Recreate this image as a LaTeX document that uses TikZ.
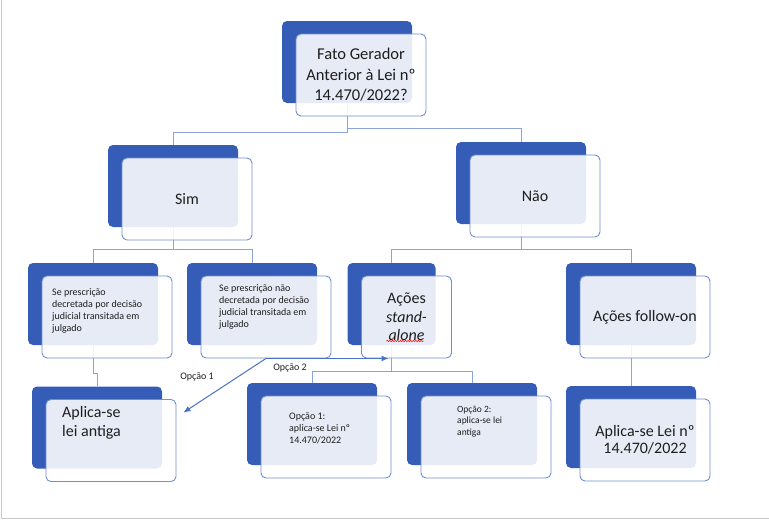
\documentclass[tikz,border=0pt]{standalone}
\usepackage{fontspec}
\setmainfont{Carlito}
\usepackage{tikz}
\usetikzlibrary{calc,arrows.meta,decorations.pathmorphing}
\definecolor{darkbl}{HTML}{355CB7}
\definecolor{edgebl}{HTML}{6F8FD0}
\definecolor{connbl}{HTML}{8BA3D8}
\definecolor{arrbl}{HTML}{4A72C6}
\definecolor{txtcol}{HTML}{1E1E1E}
\definecolor{framegray}{HTML}{C8C8C8}
\begin{document}
\begin{tikzpicture}[
        x=1pt, y=-1pt,
        back/.style={fill=darkbl, rounded corners=5pt, minimum width=130pt, minimum height=82pt, inner sep=0pt},
        front/.style={draw=edgebl, line width=0.9pt, fill=white, fill opacity=0.88, text opacity=1,
          rounded corners=5pt, minimum width=130pt, minimum height=82pt, inner sep=0pt, text=txtcol},
        conn/.style={draw=connbl, line width=1pt},
        arr/.style={draw=arrbl, line width=1pt, -{Latex[length=7pt, width=6pt]}},
        head/.style={font=\fontsize{16.5}{20.5}\selectfont, align=center},
        big/.style={font=\fontsize{16}{18.5}\selectfont, align=center},
        small/.style={font=\fontsize{10}{11.8}\selectfont, align=left, inner sep=0pt, text=txtcol, anchor=west}
      ]
      \useasboundingbox (0,0) rectangle (769,520);
      \draw[framegray, line width=1pt] (1.5,0) -- (1.5,518) -- (769,518);

      \node[back] (topB) at (347,62) {};
      \node[back] (simB) at (173,186) {};
      \node[back] (naoB) at (521,183) {};
      \node[back] (aB) at (93,304) {};
      \node[back] (bB) at (252,304) {};
      \node[back, minimum width=88pt] (cB) at (391.5,304) {};
      \node[back] (dB) at (631,304) {};
      \node[back] (eB) at (97,427.5) {};
      \node[back] (fB) at (312,424) {};
      \node[back] (gB) at (472,424) {};
      \node[back] (hB) at (631,427) {};

      \draw[conn] (topB.south) -- ++(0,29) -| (simB.north);
      \draw[conn] (topB.south) -- ++(0,25) -| (naoB.north);
      \draw[conn] (simB.south) -- ++(0,22) -| (aB.north);
      \draw[conn] (simB.south) -- ++(0,22) -| (bB.north);
      \draw[conn] (naoB.south) -- ++(0,25) -| (cB.north);
      \draw[conn] (naoB.south) -- ++(0,25) -| (dB.north);
      \draw[conn] (aB.south) -- ++(0,28.5) -| (eB.north);
      \draw[conn] (cB.south) -- ++(0,26.5) -| (fB.north);
      \draw[conn] (cB.south) -- ++(0,26.5) -| (gB.north);
      \draw[conn] (dB.south) -- (hB.north);

      \node[front, head] (topF) at ($(topB)+(14,13)$) {Fato Gerador\\Anterior à Lei nº\\14.470/2022?};
      \node[front, big] (simF) at ($(simB)+(14,13)$) {Sim};
      \node[front, big] (naoF) at ($(naoB)+(14,13)$) {Não};
      \node[front] (aF) at ($(aB)+(14,13)$) {};
      \node[front] (bF) at ($(bB)+(14,13)$) {};
      \node[front, big, minimum width=90pt] (cF) at ($(cB)+(15,13)$) {Ações\\\textit{stand-}\\\textit{alone}};
      \node[front, big] (dF) at ($(dB)+(14,13)$) {Ações follow-on};
      \node[front] (eF) at ($(eB)+(14,13)$) {};
      \node[front] (fF) at ($(fB)+(14,13)$) {};
      \node[front] (gF) at ($(gB)+(14,13)$) {};
      \node[front, big, font=\fontsize{16}{17.5}\selectfont] (hF) at ($(hB)+(14,13)$) {Aplica-se Lei nº\\14.470/2022};

      \draw[red, line width=0.5pt, decorate, decoration={snake, amplitude=0.7pt, segment length=2.6pt}]
        ($(cF.center)+(-20,24)$) -- ($(cF.center)+(17,24)$);

      \node[small] (aT) at (52,311) {Se prescrição\\decretada por decisão\\judicial transitada em\\julgado};
      \node[small] (bT) at (219,307) {Se prescrição não\\decretada por decisão\\judicial transitada em\\julgado};
      \node[small, font=\fontsize{16}{19}\selectfont] (eT) at (62,422.5) {Aplica-se\\lei antiga};
      \node[small] (fT) at (289,428.5) {Opção 1:\\aplica-se Lei nº\\14.470/2022};
      \node[small, font=\fontsize{9.5}{11.5}\selectfont] (gT) at (457,421.5) {Opção 2:\\aplica-se lei\\antiga};

      \coordinate (opt1end) at ($(eF.east)+(7,-28)$);
      \coordinate (opt2end) at ($(cB.south |- bF.south)+(-3,0)$);
      \draw[arr] (bF.south) -- (opt1end);
      \draw[arr] (bF.south) -- (opt2end);
      \node[small, anchor=center] (op1) at (197,377) {Opção 1};
      \node[small, anchor=center] (op2) at (290,368) {Opção 2};
      \end{tikzpicture}
\end{document}
